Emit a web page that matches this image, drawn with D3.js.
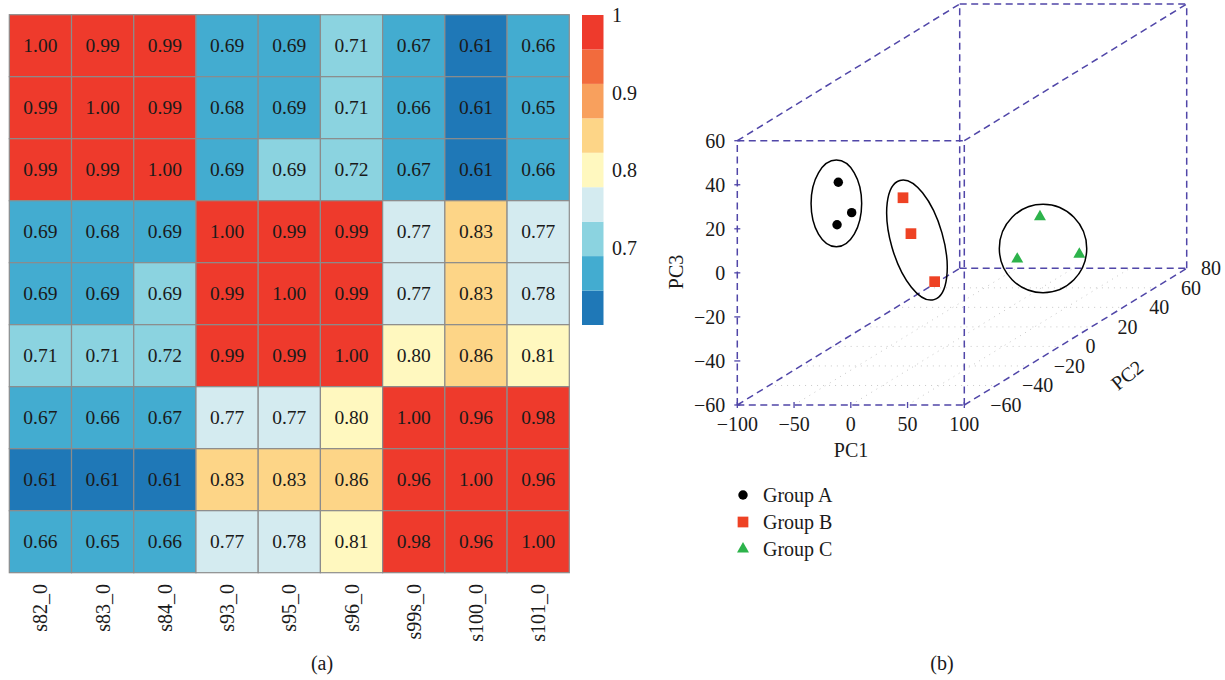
<!DOCTYPE html>
<html>
<head>
<meta charset="utf-8">
<script src="https://cdn.jsdelivr.net/npm/d3@7/dist/d3.min.js"></script>
<style>
  html, body { margin: 0; padding: 0; background: #fff; }
  svg { display: block; }
  text { font-family: "Liberation Serif", "DejaVu Serif", serif; fill: #1a1a1a; }
</style>
</head>
<body>
<svg id="chart" width="1225" height="680"></svg>
<script>
// ---------------- DATA ----------------
const samples = ["s82_0","s83_0","s84_0","s93_0","s95_0","s96_0","s99s_0","s100_0","s101_0"];
const corr = [
  [1.00,0.99,0.99,0.688,0.688,0.71,0.67,0.61,0.66],
  [0.99,1.00,0.99,0.68,0.688,0.71,0.66,0.61,0.65],
  [0.99,0.99,1.00,0.688,0.691,0.72,0.67,0.61,0.66],
  [0.688,0.68,0.688,1.00,0.99,0.99,0.77,0.83,0.77],
  [0.688,0.688,0.691,0.99,1.00,0.99,0.77,0.83,0.776],
  [0.71,0.71,0.72,0.99,0.99,1.00,0.80,0.86,0.81],
  [0.67,0.66,0.67,0.77,0.77,0.80,1.00,0.96,0.98],
  [0.61,0.61,0.61,0.83,0.83,0.86,0.96,1.00,0.96],
  [0.66,0.65,0.66,0.77,0.776,0.81,0.98,0.96,1.00]
];
const colorDomain = [0.6, 1.0];
const binColors = ["#1f78b7","#43acd0","#8bd3e0","#d4ebf0","#fff8bf","#fdd587","#f8a05d","#f26b3d","#ee3a2c"];
const colorbarTicks = [0.7, 0.8, 0.9, 1];

const groups = ["Group A","Group B","Group C"];
const groupColors = ["#000000","#ee4224","#2db34b"];
const pc1 = [-67.0,-55.2,-68.1,   4.0, 11.0, 31.9,   12.7, -7.3, 47.4];
const pc2 = [-20,-20,-20,         -30,-30,-30,         50, 50, 50];
const pc3 = [23.4, 9.6, 4.1,      20.8, 4.5,-17.3,    -23.3,-42.5,-40.3];
const pointGroup = [0,0,0, 1,1,1, 2,2,2];
// ellipse centres in data units
const ellPC1 = [-68.7, 16.3, 15.4];
const ellPC2 = [-20, -30, 50];
const ellPC3 = [13.8, 1.6, -37.7];

const pc1Ticks = [-100,-50,0,50,100];
const pc2Ticks = [-60,-40,-20,0,20,40,60,80];
const pc3Ticks = [-60,-40,-20,0,20,40,60];

// ---------------- SETUP ----------------
const svg = d3.select("#chart");
const fmt2 = d3.format(".2f");

// ---------------- HEATMAP ----------------
const xB = d3.scaleBand().domain(samples).range([9.3, 569.3]);
const yB = d3.scaleBand().domain(samples).range([14.7, 572.7]);
const color = d3.scaleQuantize().domain(colorDomain).range(binColors);

const cells = [];
corr.forEach((row, i) => row.forEach((v, j) => cells.push({r: samples[i], c: samples[j], v})));

const hm = svg.append("g");
hm.selectAll("rect").data(cells).join("rect")
  .attr("x", d => xB(d.c)).attr("y", d => yB(d.r))
  .attr("width", xB.bandwidth()).attr("height", yB.bandwidth())
  .attr("fill", d => color(d.v))
  .attr("stroke", "#8c8c8c").attr("stroke-width", 1.2);
hm.selectAll("text.val").data(cells).join("text").attr("class","val")
  .attr("x", d => xB(d.c) + xB.bandwidth()/2)
  .attr("y", d => yB(d.r) + yB.bandwidth()/2)
  .attr("text-anchor","middle").attr("dominant-baseline","central")
  .style("font-size","19.5px")
  .text(d => fmt2(d.v));

// x labels
hm.selectAll("text.xl").data(samples).join("text").attr("class","xl")
  .attr("transform", d => `translate(${xB(d) + xB.bandwidth()/2 + 7},584) rotate(-90)`)
  .attr("text-anchor","end")
  .style("font-size","20px")
  .text(d => d);

// colorbar
const cbY = d3.scaleLinear().domain(colorDomain).range([325, 15]);
const thresholds = [colorDomain[0], ...color.thresholds(), colorDomain[1]];
const cb = svg.append("g");
cb.selectAll("rect").data(binColors).join("rect")
  .attr("x", 582).attr("width", 21.5)
  .attr("y", (d,i) => cbY(thresholds[i+1]))
  .attr("height", (d,i) => cbY(thresholds[i]) - cbY(thresholds[i+1]))
  .attr("fill", d => d);
cb.selectAll("text").data(colorbarTicks).join("text")
  .attr("x", 612).attr("y", d => cbY(d))
  .attr("dominant-baseline","central")
  .style("font-size","20px")
  .text(d => d === 1 ? "1" : d3.format(".1f")(d));

svg.append("text").attr("x", 322).attr("y", 663)
  .attr("text-anchor","middle").attr("dominant-baseline","central")
  .style("font-size","20px").text("(a)");

// ---------------- 3D PCA ----------------
const sx = d3.scaleLinear().domain([-100,100]).range([737.3, 964.3]);
const sz = d3.scaleLinear().domain([-60,60]).range([405, 140.7]);
const dX = d3.scaleLinear().domain([-60,80]).range([0, 222.4]);
const dY = d3.scaleLinear().domain([-60,80]).range([0, -136.7]);
const proj = (x, y, z) => [sx(x) + dX(y), sz(z) + dY(y)];

const g3 = svg.append("g");
const line = d3.line();
const boxColor = "#5046a8";

// floor grid (z = -60)
const floor = g3.append("g").attr("stroke","#c8c8c8").attr("stroke-width",1).attr("stroke-dasharray","1,5").attr("fill","none");
pc2Ticks.slice(1, -1).forEach(t => {
  floor.append("path").attr("d", line([proj(-100,t,-60), proj(100,t,-60)]));
});
pc1Ticks.slice(1, -1).forEach(t => {
  floor.append("path").attr("d", line([proj(t,-60,-60), proj(t,80,-60)]));
});

// box edges
const X = [-100,100], Y = [-60,80], Z = [-60,60];
const edges = [];
Y.forEach(y => Z.forEach(z => edges.push([proj(X[0],y,z), proj(X[1],y,z)])));
Y.forEach(y => X.forEach(x => edges.push([proj(x,y,Z[0]), proj(x,y,Z[1])])));
X.forEach(x => Z.forEach(z => edges.push([proj(x,Y[0],z), proj(x,Y[1],z)])));
g3.append("g").selectAll("path").data(edges).join("path")
  .attr("d", d => line(d))
  .attr("fill","none").attr("stroke", boxColor).attr("stroke-width",1.5)
  .attr("stroke-dasharray","7,4.5");

// ticks
const tk = g3.append("g").attr("stroke", boxColor).attr("stroke-width",1.3);
pc3Ticks.forEach(t => { const p = proj(-100,-60,t); tk.append("line").attr("x1",p[0]-3).attr("x2",p[0]+3).attr("y1",p[1]).attr("y2",p[1]); });
pc1Ticks.forEach(t => { const p = proj(t,-60,-60); tk.append("line").attr("x1",p[0]).attr("x2",p[0]).attr("y1",p[1]-3).attr("y2",p[1]+3); });

const fmtT = d3.format("d");
// PC3 tick labels
g3.append("g").selectAll("text").data(pc3Ticks).join("text")
  .attr("x", d => proj(-100,-60,d)[0] - 12).attr("y", d => proj(-100,-60,d)[1])
  .attr("text-anchor","end").attr("dominant-baseline","central")
  .style("font-size","20px").text(d => fmtT(d));
// PC1 tick labels
g3.append("g").selectAll("text").data(pc1Ticks).join("text")
  .attr("x", d => proj(d,-60,-60)[0]).attr("y", d => proj(d,-60,-60)[1] + 19)
  .attr("text-anchor","middle").attr("dominant-baseline","central")
  .style("font-size","20px").text(d => fmtT(d));
// PC2 tick labels
g3.append("g").selectAll("text").data(pc2Ticks).join("text")
  .attr("x", d => Math.min(proj(100,d,-60)[0] + 26, 1221 - fmtT(d).length * 10))
  .attr("y", d => proj(100,d,-60)[1])
  .attr("text-anchor","start").attr("dominant-baseline","central")
  .style("font-size","20px").text(d => fmtT(d));

// axis titles
g3.append("text").attr("x", 851).attr("y", 450)
  .attr("text-anchor","middle").attr("dominant-baseline","central")
  .style("font-size","20px").text("PC1");
g3.append("text").attr("transform","translate(683,272) rotate(-90)")
  .attr("text-anchor","middle")
  .style("font-size","20px").text("PC3");
g3.append("text").attr("transform","translate(1127,375) rotate(-39)")
  .attr("text-anchor","middle").attr("dominant-baseline","central")
  .style("font-size","20px").text("PC2");

// group ellipses
const ellRx = [25.3, 26, 43.7], ellRy = [43.3, 62, 44.2], ellRot = [0, -16, 0];
g3.append("g").selectAll("ellipse").data(groups).join("ellipse")
  .attr("transform", (d,i) => { const p = proj(ellPC1[i], ellPC2[i], ellPC3[i]); return `translate(${p[0]},${p[1]}) rotate(${ellRot[i]})`; })
  .attr("rx", (d,i) => ellRx[i]).attr("ry", (d,i) => ellRy[i])
  .attr("fill","none").attr("stroke","#000").attr("stroke-width",1.5);

// points
const symbols = [d3.symbolCircle, d3.symbolSquare, d3.symbolTriangle];
const symSizes = [70, 115, 62];
const pts = pc1.map((v,i) => ({x: v, y: pc2[i], z: pc3[i], g: pointGroup[i]}));
g3.append("g").selectAll("path").data(pts).join("path")
  .attr("transform", d => { const p = proj(d.x, d.y, d.z); return `translate(${p[0]},${p[1]})`; })
  .attr("d", d => d3.symbol().type(symbols[d.g]).size(symSizes[d.g])())
  .attr("fill", d => groupColors[d.g]);

// legend
const lg = svg.append("g").attr("transform","translate(743,495)");
const lgY = d3.scaleBand().domain(groups).range([0, 81]);
groups.forEach((gname, i) => {
  const yy = i * 27;
  lg.append("path").attr("transform", `translate(0,${yy})`)
    .attr("d", d3.symbol().type(symbols[i]).size(symSizes[i])())
    .attr("fill", groupColors[i]);
  lg.append("text").attr("x", 20).attr("y", yy)
    .attr("dominant-baseline","central")
    .style("font-size","20px").text(gname);
});

svg.append("text").attr("x", 942).attr("y", 663)
  .attr("text-anchor","middle").attr("dominant-baseline","central")
  .style("font-size","20px").text("(b)");
</script>
</body>
</html>
